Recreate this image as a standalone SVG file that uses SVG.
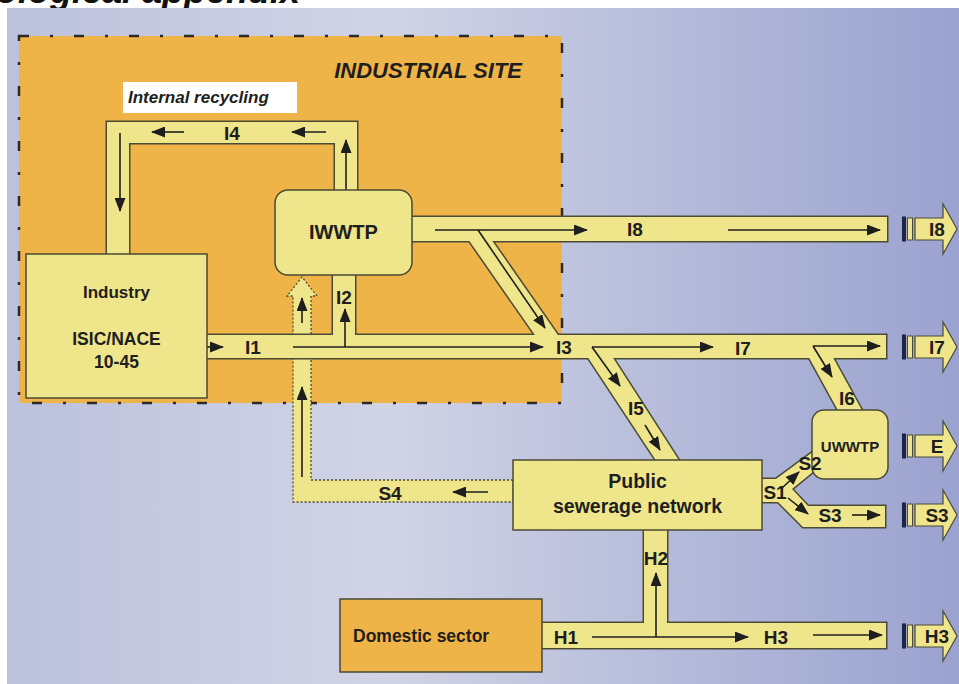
<svg xmlns="http://www.w3.org/2000/svg" xmlns:xlink="http://www.w3.org/1999/xlink" width="959" height="684" viewBox="0 0 959 684">
<style>
.pipe-o{fill:none;stroke:#4a4a35;stroke-width:3;stroke-linejoin:miter}
.pipe-f{fill:#efe58b;stroke:none}
.box{fill:#efe58b;stroke:#4a4a35;stroke-width:1.5}
.obox{fill:#efb447;stroke:#4a4a35;stroke-width:1.5}
.t{font-family:"Liberation Sans",Arial,sans-serif;font-weight:bold;fill:#1e1e1e;text-anchor:middle}
.lbl{font-family:"Liberation Sans",Arial,sans-serif;font-weight:bold;font-size:19px;fill:#1e1e1e;text-anchor:middle}
.flow{stroke:#1e1e1e;stroke-width:1.6;fill:none;marker-end:url(#ah)}
.dot{fill:#efe58b;stroke:#4a4a35;stroke-width:1.3;stroke-dasharray:2 2}
</style>
<defs>
<linearGradient id="bg" x1="0" y1="0" x2="1" y2="0">
<stop offset="0" stop-color="#bcc2dc"/>
<stop offset="0.4" stop-color="#d1d4e5"/>
<stop offset="1" stop-color="#9aa2cf"/>
</linearGradient>
<marker id="ah" viewBox="0 0 14 11" refX="13" refY="5.5" markerWidth="14" markerHeight="11" markerUnits="userSpaceOnUse" orient="auto">
<path d="M0,0 L14,5.5 L0,11 Z" fill="#1e1e1e"/>
</marker>
<g id="pipeShapes">
<path d="M107,256 L107,122 L357,122 L357,193 L335,193 L335,143 L129,143 L129,256 Z"/>
<rect x="205" y="335" width="681" height="23"/>
<rect x="333" y="273" width="22" height="64"/>
<rect x="410" y="217" width="477" height="24"/>
<path d="M466.6,237 L489.6,237 L560,338 L537,338 Z"/>
<path d="M583,350 L608,350 L680,462 L657,462 Z"/>
<path d="M806,352 L830,352 L864,414 L840,414 Z"/>
<path d="M760,479 L776,479 L814,451 L814,471 L792,489 L808,506 L885,506 L885,527 L803,527 L778,502 L760,502 Z"/>
<rect x="540" y="623" width="346" height="25"/>
<rect x="644" y="528" width="23" height="97"/>
</g>
<g id="exitArrow">
<rect x="902" y="-12.5" width="4" height="25" fill="#1c2640"/>
<rect x="907.5" y="-11" width="5" height="22" fill="#efe58b" stroke="#4a4a35" stroke-width="1"/>
<path d="M915,-11 H943 V-25 L957,0 L943,25 V11 H915 Z" fill="#efe58b" stroke="#4a4a35" stroke-width="1.2"/>
</g>
</defs>

<rect x="0" y="0" width="959" height="684" fill="#ffffff"/>
<text x="300" y="3" text-anchor="end" font-family="Liberation Sans, Arial, sans-serif" font-weight="bold" font-style="italic" font-size="36" fill="#111">Methodological appendix</text>
<rect x="7" y="8" width="952" height="676" fill="url(#bg)"/>

<g id="industrial-site">
<rect x="19" y="36" width="543" height="367" fill="#efb447"/>
<rect x="19" y="36" width="543" height="367" fill="none" stroke="#2a2a2a" stroke-width="2.5" stroke-dasharray="10 21 3 21"/>
<text x="522" y="78" text-anchor="end" font-family="Liberation Sans, Arial, sans-serif" font-weight="bold" font-style="italic" font-size="22" fill="#1e1e1e">INDUSTRIAL SITE</text>
<rect x="123" y="82" width="174" height="31" fill="#ffffff"/>
<text x="128" y="103" font-family="Liberation Sans, Arial, sans-serif" font-weight="bold" font-style="italic" font-size="17" fill="#1e1e1e">Internal recycling</text>
</g>

<g id="connectors">
<path class="dot" d="M513,480 L311,480 L311,296 L317,296 L302,277 L287,296 L293,296 L293,502 L513,502 Z"/>
<use xlink:href="#pipeShapes" href="#pipeShapes" class="pipe-o"/>
<use xlink:href="#pipeShapes" href="#pipeShapes" class="pipe-f"/>
<line class="flow" x1="120" y1="133" x2="120" y2="211"/>
<line class="flow" x1="184" y1="132" x2="152" y2="132"/>
<line class="flow" x1="326" y1="132" x2="292" y2="132"/>
<line class="flow" x1="346" y1="191" x2="346" y2="140"/>
<line class="flow" x1="207" y1="347" x2="223" y2="347"/>
<line class="flow" x1="293" y1="347" x2="543" y2="347"/>
<line class="flow" x1="345" y1="347" x2="345" y2="309"/>
<line class="flow" x1="302" y1="323" x2="302" y2="298"/>
<line class="flow" x1="302" y1="477" x2="302" y2="387"/>
<line class="flow" x1="488" y1="492" x2="453" y2="492"/>
<line class="flow" x1="435" y1="230" x2="587" y2="230"/>
<line class="flow" x1="728" y1="230" x2="880" y2="230"/>
<line class="flow" x1="478" y1="230" x2="545" y2="328"/>
<line class="flow" x1="592" y1="347" x2="713" y2="347"/>
<line class="flow" x1="813" y1="346" x2="880" y2="346"/>
<line class="flow" x1="592" y1="347" x2="620" y2="386"/>
<line class="flow" x1="645" y1="425" x2="660" y2="450"/>
<line class="flow" x1="813" y1="346" x2="832" y2="377"/>
<line class="flow" x1="781" y1="489" x2="799" y2="472"/>
<line class="flow" x1="788" y1="498" x2="808" y2="514"/>
<line class="flow" x1="852" y1="515" x2="880" y2="515"/>
<line class="flow" x1="592" y1="637" x2="748" y2="637"/>
<line class="flow" x1="656" y1="637" x2="656" y2="573"/>
<line class="flow" x1="813" y1="635" x2="882" y2="635"/>
</g>

<g id="industry">
<rect class="box" x="26" y="254" width="181" height="144"/>
<text class="t" x="116.5" y="298" font-size="17">Industry</text>
<text class="t" x="116.5" y="345" font-size="17.5">ISIC/NACE</text>
<text class="t" x="116.5" y="368" font-size="17.5">10-45</text>
</g>
<g id="iwwtp">
<rect class="box" x="275" y="190" width="137" height="85" rx="13"/>
<text class="t" x="343.5" y="239" font-size="20">IWWTP</text>
</g>
<g id="public-sewerage">
<rect class="box" x="513" y="460" width="249" height="70"/>
<text class="t" x="637.5" y="488" font-size="19.5">Public</text>
<text class="t" x="637.5" y="513" font-size="19.5">sewerage network</text>
</g>
<g id="uwwtp">
<rect class="box" x="812" y="410" width="76" height="69" rx="12"/>
<text class="t" x="850" y="452" font-size="15">UWWTP</text>
</g>
<g id="domestic">
<rect class="obox" x="340" y="599" width="202" height="73"/>
<text class="t" x="353" y="642" font-size="17.5" style="text-anchor:start">Domestic sector</text>
</g>

<g id="connector-labels">
<text class="lbl" x="232" y="140">I4</text>
<text class="lbl" x="253" y="354">I1</text>
<text class="lbl" x="344" y="304">I2</text>
<text class="lbl" x="564" y="354">I3</text>
<text class="lbl" x="635" y="236">I8</text>
<text class="lbl" x="743" y="355">I7</text>
<text class="lbl" x="636" y="415">I5</text>
<text class="lbl" x="847" y="405">I6</text>
<text class="lbl" x="390" y="500">S4</text>
<text class="lbl" x="775" y="499">S1</text>
<text class="lbl" x="810" y="470">S2</text>
<text class="lbl" x="830" y="522">S3</text>
<text class="lbl" x="566" y="644">H1</text>
<text class="lbl" x="656" y="565">H2</text>
<text class="lbl" x="776" y="644">H3</text>
</g>

<g id="exit-I8"><use xlink:href="#exitArrow" href="#exitArrow" transform="translate(0,229)"/><text class="lbl" x="937" y="236">I8</text></g>
<g id="exit-I7"><use xlink:href="#exitArrow" href="#exitArrow" transform="translate(0,347)"/><text class="lbl" x="937" y="354">I7</text></g>
<g id="exit-E"><use xlink:href="#exitArrow" href="#exitArrow" transform="translate(0,446)"/><text class="lbl" x="937" y="453">E</text></g>
<g id="exit-S3"><use xlink:href="#exitArrow" href="#exitArrow" transform="translate(0,515)"/><text class="lbl" x="937" y="522">S3</text></g>
<g id="exit-H3"><use xlink:href="#exitArrow" href="#exitArrow" transform="translate(0,636)"/><text class="lbl" x="937" y="643">H3</text></g>
</svg>
